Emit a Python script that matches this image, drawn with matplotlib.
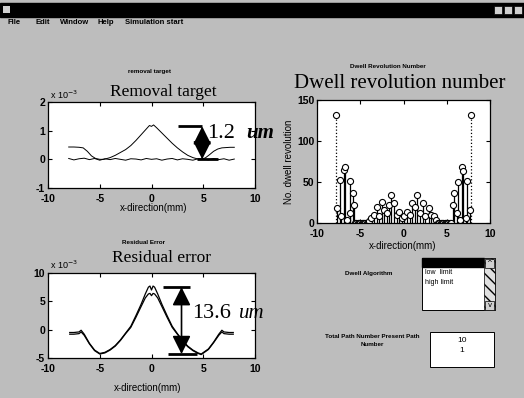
import matplotlib.pyplot as plt
from matplotlib.patches import Rectangle

plt.rcParams['axes.unicode_minus'] = False

# removal target (x 1e-3)
rem_x = [-8.0, -7.5, -7.0, -6.6, -6.2, -5.8, -5.4, -5.0, -4.6, -4.0, -3.5, -3.0, -2.5, -2.0, -1.5,
         -1.0, -0.5, -0.2, 0.0, 0.2, 0.5, 1.0, 1.5, 2.0, 2.5, 3.0, 3.5, 4.0, 4.5, 4.8, 5.2, 5.6,
         6.0, 6.4, 6.8, 7.2, 7.6, 8.0]
rem_target = [0.43, 0.43, 0.42, 0.40, 0.28, 0.12, 0.03, 0.0, 0.0, 0.06, 0.14, 0.24, 0.34, 0.48, 0.66,
              0.86, 1.06, 1.18, 1.15, 1.20, 1.10, 0.92, 0.74, 0.56, 0.40, 0.26, 0.14, 0.06, 0.01, 0.0,
              0.05, 0.16, 0.28, 0.36, 0.40, 0.41, 0.42, 0.42]
flat_x = [-8.0, -7.5, -7.0, -6.5, -6.0, -5.5, -5.0, -4.5, -4.0, -3.5, -3.0, -2.5, -2.0, -1.5, -1.0, -0.5,
          0.0, 0.5, 1.0, 1.5, 2.0, 2.5, 3.0, 3.5, 4.0, 4.5, 5.0, 5.5, 6.0, 6.5, 7.0, 7.5, 8.0]
flat_y = [0.03, -0.02, 0.02, 0.04, -0.01, 0.03, -0.03, 0.02, -0.01, 0.03, 0.0, -0.03, 0.02, 0.01, -0.02, 0.03,
          0.0, 0.02, -0.03, 0.01, 0.03, -0.02, 0.02, 0.0, -0.03, 0.02, 0.01, -0.02, 0.03, -0.01, 0.02, -0.03, 0.01]

# residual error (x 1e-3)
res_x = [-7.9, -7.5, -7.0, -6.8, -6.5, -6.0, -5.5, -5.0, -4.5, -4.0, -3.5, -3.0, -2.5, -2.0, -1.5, -1.0,
         -0.6, -0.3, -0.15, 0.0, 0.15, 0.3, 0.6, 1.0, 1.5, 2.0, 2.5, 3.0, 3.5, 4.0, 4.5, 4.8, 5.5,
         6.0, 6.5, 6.8, 7.0, 7.5, 7.9]
res_a = [-0.5, -0.5, -0.4, -0.1, -0.8, -2.4, -3.6, -4.2, -4.0, -3.5, -2.8, -1.8, -0.6, 0.6, 2.5, 4.5,
         6.3, 7.5, 7.7, 7.0, 7.7, 7.5, 6.3, 4.5, 2.5, 0.6, -0.7, -1.9, -2.9, -3.6, -4.1, -4.3, -3.4,
         -2.2, -0.8, -0.1, -0.4, -0.5, -0.5]
res_b = [-0.8, -0.8, -0.7, -0.4, -1.0, -2.5, -3.7, -4.3, -4.1, -3.6, -2.9, -1.9, -0.7, 0.4, 2.2, 4.1,
         5.6, 6.3, 6.4, 6.0, 6.4, 6.3, 5.6, 4.1, 2.2, 0.4, -0.8, -2.0, -3.0, -3.7, -4.2, -4.4, -3.5,
         -2.3, -1.0, -0.4, -0.7, -0.8, -0.8]

# dwell revolution number
dwell_x = [-7.85, -7.65, -7.35, -7.2, -6.85, -6.75, -6.5, -6.2, -6.15, -5.85, -5.7,
           -5.6, -5.45, -5.3, -5.15, -5.0, -4.85, -4.7, -4.55, -4.4, -4.25, -4.1,
           -4.0, -3.7, -3.4, -3.1, -2.8, -2.5, -2.2, -1.9, -1.7, -1.4, -1.1, -0.8, -0.5, -0.2,
           0.1, 0.4, 0.7, 1.0, 1.3, 1.6, 1.9, 2.2, 2.5, 2.9, 3.2, 3.5, 3.8,
           4.0, 4.15, 4.3, 4.45, 4.6, 4.75, 4.9, 5.05, 5.2, 5.35, 5.5,
           5.7, 5.85, 6.15, 6.25, 6.5, 6.75, 6.85, 7.2, 7.35, 7.65, 7.85]
dwell_y = [132, 18, 52, 8, 65, 68, 4, 51, 12, 36, 22,
           0, 0, 0, 0, 0, 0, 0, 0, 0, 0, 0,
           3, 6, 10, 20, 8, 26, 16, 12, 22, 34, 24, 10, 14, 6,
           8, 14, 10, 24, 20, 34, 12, 24, 8, 18, 10, 8, 4,
           0, 0, 0, 0, 0, 0, 0, 0, 0, 0, 0,
           22, 36, 12, 50, 4, 68, 64, 6, 51, 16, 132]

list_items = ['low  limit', 'high limit']
path_numbers = ['10', '1']

W, H = 524, 398
BG = '#bdbdbd'
serif = 'Liberation Serif'
sans = 'Liberation Sans'


def fx(x):
    return x / W


def fy(y):
    return 1 - y / H


fig = plt.figure(figsize=(5.24, 3.98), dpi=100, facecolor=BG)

# window chrome
fig.patches.append(Rectangle((0, fy(17)), 1, 14 / H, transform=fig.transFigure, color='black'))
for bx in [494, 504, 514]:
    fig.patches.append(Rectangle((fx(bx), fy(14)), 8 / W, 8 / H, transform=fig.transFigure,
                                 facecolor='#d0d0d0', edgecolor='black', lw=0.5))
fig.patches.append(Rectangle((fx(3), fy(13)), 7 / W, 7 / H, transform=fig.transFigure,
                             facecolor='#d0d0d0', edgecolor='none'))
for mx, lbl in [(8, 'File'), (35, 'Edit'), (60, 'Window'), (98, 'Help'), (125, 'Simulation start')]:
    fig.text(fx(mx), fy(23), lbl, fontsize=5.5, fontweight='bold', family=sans, va='center')


def style_axes(ax):
    ax.tick_params(direction='in', top=True, right=True, length=3, labelsize=7.5)
    ax.tick_params(axis='x', pad=4)
    ax.tick_params(axis='y', pad=2)
    for lab in ax.get_xticklabels() + ax.get_yticklabels():
        lab.set_fontweight('bold')
        lab.set_family(sans)
    for sp in ax.spines.values():
        sp.set_linewidth(0.9)


arrow_props = dict(arrowstyle='<|-|>,head_length=0.7,head_width=0.35', color='black',
                   lw=1.2, mutation_scale=16, shrinkA=0, shrinkB=0)

# removal target
ax1 = fig.add_axes([fx(48), fy(188), 207 / W, 86 / H])
ax1.plot(flat_x, flat_y, color='black', lw=0.7)
ax1.plot(rem_x, rem_target, color='black', lw=0.7)
ax1.set_xlim(-10, 10)
ax1.set_ylim(-1, 2)
ax1.set_xticks([-10, -5, 0, 5, 10])
ax1.set_yticks([-1, 0, 1, 2])
style_axes(ax1)
ax1.plot([2.6, 4.9], [1.15, 1.15], color='black', lw=2, solid_capstyle='butt')
ax1.plot([4.4, 6.4], [0, 0], color='black', lw=2, solid_capstyle='butt', clip_on=False)
ax1.annotate('', xy=(4.9, 0.0), xytext=(4.9, 1.15), arrowprops=arrow_props)

# residual error
ax2 = fig.add_axes([fx(48), fy(358), 207 / W, 85 / H])
ax2.plot(res_x, res_a, color='black', lw=0.9)
ax2.plot(res_x, res_b, color='black', lw=0.9)
ax2.set_xlim(-10, 10)
ax2.set_ylim(-5, 10)
ax2.set_xticks([-10, -5, 0, 5, 10])
ax2.set_yticks([-5, 0, 5, 10])
style_axes(ax2)
ax2.plot([1.1, 3.7], [7.5, 7.5], color='black', lw=2, solid_capstyle='butt')
ax2.plot([1.6, 4.4], [-4.3, -4.3], color='black', lw=2, solid_capstyle='butt')
ax2.annotate('', xy=(2.9, -4.3), xytext=(2.9, 7.5), arrowprops=arrow_props)

# dwell revolution number
ax3 = fig.add_axes([fx(317), fy(223), 173 / W, 123 / H])
st = ax3.stem(dwell_x, dwell_y, linefmt='k-', markerfmt='ko', basefmt=' ')
st.markerline.set_markerfacecolor('white')
st.markerline.set_markersize(4.4)
st.markerline.set_markeredgewidth(0.8)
st.stemlines.set_linewidth(0.9)
st.stemlines.set_linestyles(['dotted' if v > 100 else 'solid' for v in dwell_y])
ax3.set_xlim(-10, 10)
ax3.set_ylim(0, 150)
ax3.set_xticks([-10, -5, 0, 5, 10])
ax3.set_yticks([0, 50, 100, 150])
style_axes(ax3)
ax3.set_ylabel('No. dwell revolution', fontsize=7, family=sans, labelpad=2)

# titles and labels
fig.text(fx(150), fy(72), 'removal target', fontsize=4.5, fontweight='bold', family=sans, ha='center', va='center')
fig.text(fx(163), fy(92), 'Removal target', fontsize=12.5, family=serif, ha='center', va='center')
fig.text(fx(143), fy(243), 'Residual Error', fontsize=4.5, fontweight='bold', family=sans, ha='center', va='center')
fig.text(fx(162), fy(258), 'Residual error', fontsize=12.5, family=serif, ha='center', va='center')
fig.text(fx(388), fy(67), 'Dwell Revolution Number', fontsize=4.5, fontweight='bold', family=sans, ha='center', va='center')
fig.text(fx(400), fy(83), 'Dwell revolution number', fontsize=15, family=serif, ha='center', va='center')
fig.text(fx(50), fy(95), r'x 10$^{-3}$', fontsize=6.5, family=sans, va='center')
fig.text(fx(50), fy(265), r'x 10$^{-3}$', fontsize=6.5, family=sans, va='center')
fig.text(fx(154), fy(208), 'x-direction(mm)', fontsize=7, family=sans, ha='center', va='center')
fig.text(fx(148), fy(388), 'x-direction(mm)', fontsize=7, family=sans, ha='center', va='center')
fig.text(fx(403), fy(246), 'x-direction(mm)', fontsize=7, family=sans, ha='center', va='center')

fig.text(fx(207), fy(133), '1.2', fontsize=16, family=serif, va='center')
fig.text(fx(246), fy(133), 'um', fontsize=15, family=serif, style='italic', fontweight='bold', va='center')
fig.text(fx(192), fy(313), '13.6', fontsize=16, family=serif, va='center')
fig.text(fx(239), fy(313), 'um', fontsize=15, family=serif, style='italic', va='center')

# dwell algorithm listbox
fig.text(fx(369), fy(273), 'Dwell Algorithm', fontsize=4.5, fontweight='bold', family=sans, ha='center', va='center')
fig.patches.append(Rectangle((fx(422), fy(310)), 73 / W, 52 / H, transform=fig.transFigure,
                             facecolor='white', edgecolor='black', lw=0.7))
fig.patches.append(Rectangle((fx(422), fy(267)), 62 / W, 9 / H, transform=fig.transFigure, color='black'))
fig.patches.append(Rectangle((fx(484), fy(310)), 11 / W, 52 / H, transform=fig.transFigure,
                             facecolor='#e0e0e0', edgecolor='black', lw=0.5, hatch='\\\\\\'))
for sy in [268, 310]:
    fig.patches.append(Rectangle((fx(485), fy(sy)), 9 / W, 9 / H, transform=fig.transFigure,
                                 facecolor='#d0d0d0', edgecolor='black', lw=0.5))
fig.text(fx(489.5), fy(263.5), '^', fontsize=5, ha='center', va='center')
fig.text(fx(489.5), fy(305), 'v', fontsize=5, ha='center', va='center')
for i, item in enumerate(list_items):
    fig.text(fx(425), fy(273 + 10 * i), item, fontsize=5, family=sans, va='center')

# path number box
fig.text(fx(372), fy(336), 'Total Path Number Present Path', fontsize=4.5, fontweight='bold', family=sans,
         ha='center', va='center')
fig.text(fx(372), fy(345), 'Number', fontsize=4.5, fontweight='bold', family=sans, ha='center', va='center')
fig.patches.append(Rectangle((fx(430), fy(367)), 64 / W, 35 / H, transform=fig.transFigure,
                             facecolor='white', edgecolor='black', lw=0.7))
for i, num in enumerate(path_numbers):
    fig.text(fx(462), fy(340 + 10 * i), num, fontsize=6, family=sans, ha='center', va='center')

fig.savefig('out.png', dpi=100, facecolor=BG)
